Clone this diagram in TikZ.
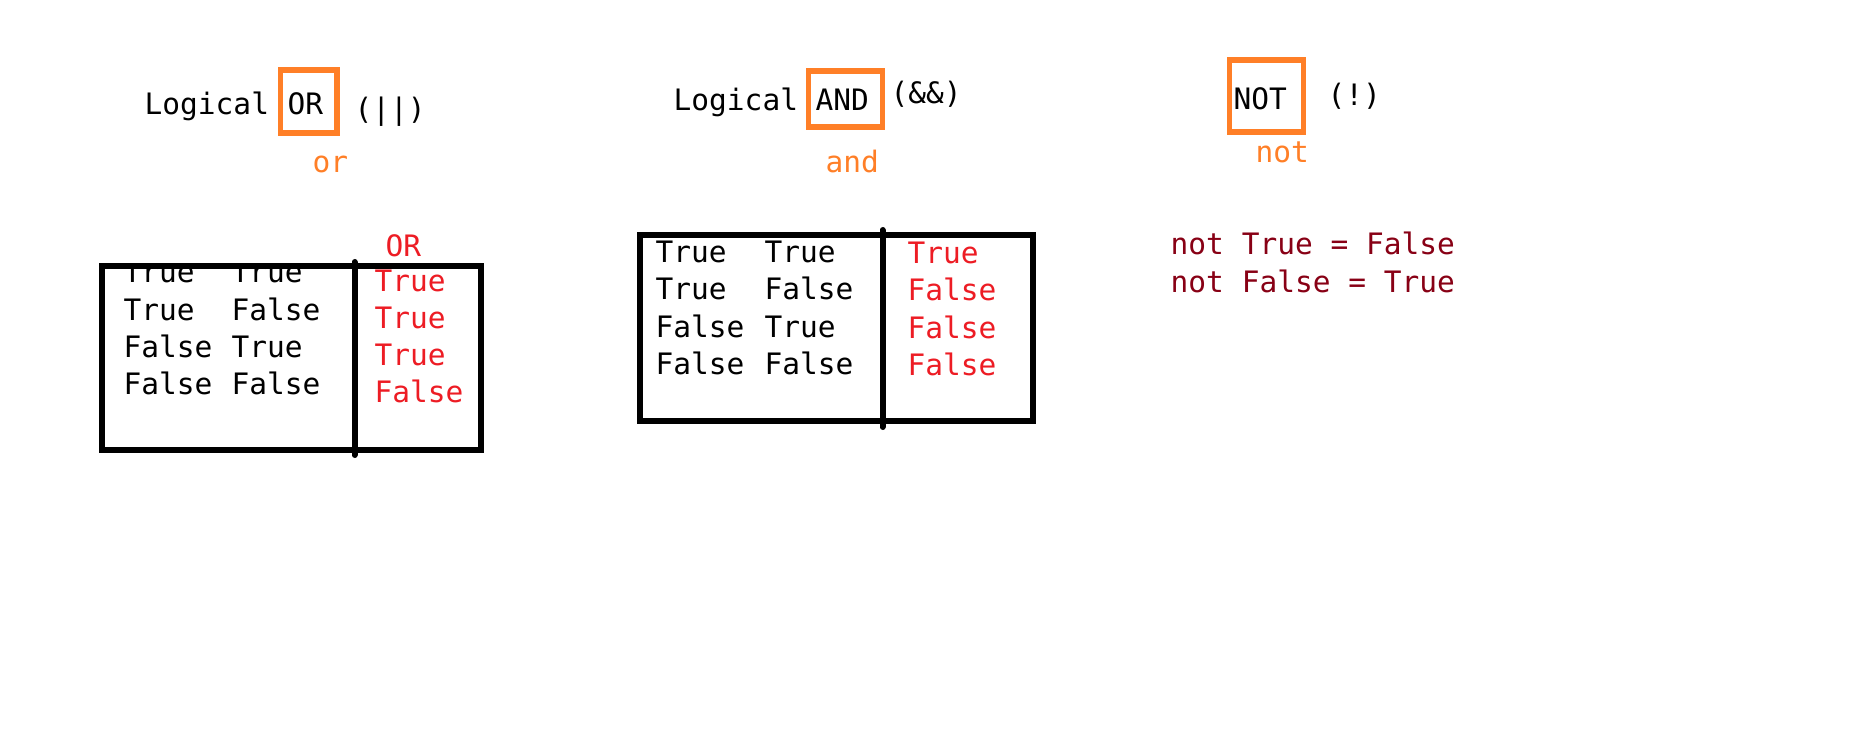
\documentclass[tikz,border=0pt]{standalone}
\usepackage{fontspec}
\newfontfamily\monofam{DejaVu Sans Mono}
\definecolor{paintorange}{RGB}{255,127,39}
\definecolor{paintred}{RGB}{237,28,36}
\definecolor{paintdark}{RGB}{136,0,21}
\begin{document}
\begin{tikzpicture}[x=1pt,y=-1pt,
  txt/.style={inner sep=0pt, anchor=base west, font=\monofam\fontsize{29.5}{37}\selectfont},
  blk/.style={txt, text=black},
  org/.style={txt, text=paintorange},
  rd/.style={txt, text=paintred},
  dk/.style={txt, text=paintdark},
  obox/.style={draw=paintorange, line width=5.5pt},
  tbox/.style={draw=black, line width=6pt},
  tline/.style={draw=black, line width=6pt, line cap=round}]
\useasboundingbox[fill=white] (0,0) rectangle (1852,743);

\begin{scope}[xshift=-2.5pt]
% ---------- OR ----------
\node[blk] (orlog) at (147,115) {Logical};
\node[blk] (orword) at (290,115) {OR};
\draw[obox] (283,70) rectangle (339.5,133);
\node[blk] (orsym) at (357,120) {(||)};
\node[org] (orpy) at (315,173) {or};

\begin{scope}
\clip (100,267) rectangle (490,460);
\foreach \a/\b/\i [count=\k] in {True/True/1,True/False/2,False/True/3,False/False/4}{
  \node[blk] (ora\k) at (126,{283+37.3*(\k-1)}) {\a};
  \node[blk] (orb\k) at (234,{283+37.3*(\k-1)}) {\b};
}
\end{scope}
\foreach \r [count=\k] in {True,True,True,False}{
  \node[rd] (orr\k) at (377,{291+37*(\k-1)}) {\r};
}
\node[rd] (orhead) at (388,257) {OR};
\draw[tbox] (104.5,266) rectangle (483,450);
\draw[tline] (357,262) -- (357,455);

% ---------- AND ----------
\node[blk] (andlog) at (676,111) {Logical};
\node[blk] (andword) at (818,111) {AND};
\draw[obox] (811,71) rectangle (885,127);
\node[blk] (andsym) at (893,104) {(\&\&)};
\node[org] (andpy) at (828,173) {and};

\foreach \a/\b/\i [count=\k] in {True/True/1,True/False/2,False/True/3,False/False/4}{
  \node[blk] (anda\k) at (658,{263+37*(\k-1)}) {\a};
  \node[blk] (andb\k) at (767,{263+37*(\k-1)}) {\b};
}
\foreach \r [count=\k] in {True,False,False,False}{
  \node[rd] (andr\k) at (910,{264+37*(\k-1)}) {\r};
}
\draw[tbox] (642.5,235.5) rectangle (1035.5,420.5);
\draw[tline] (885,230) -- (885,427);

% ---------- NOT ----------
\node[blk] (notword) at (1236,110) {NOT};
\draw[obox] (1232,60) rectangle (1306,132);
\node[blk] (notsym) at (1330,106) {(!)};
\node[org] (notpy) at (1258,163) {not};
\node[dk] (notl1) at (1173,255) {not True = False};
\node[dk] (notl2) at (1173,292) {not False = True};
\end{scope}
\end{tikzpicture}
\end{document}
